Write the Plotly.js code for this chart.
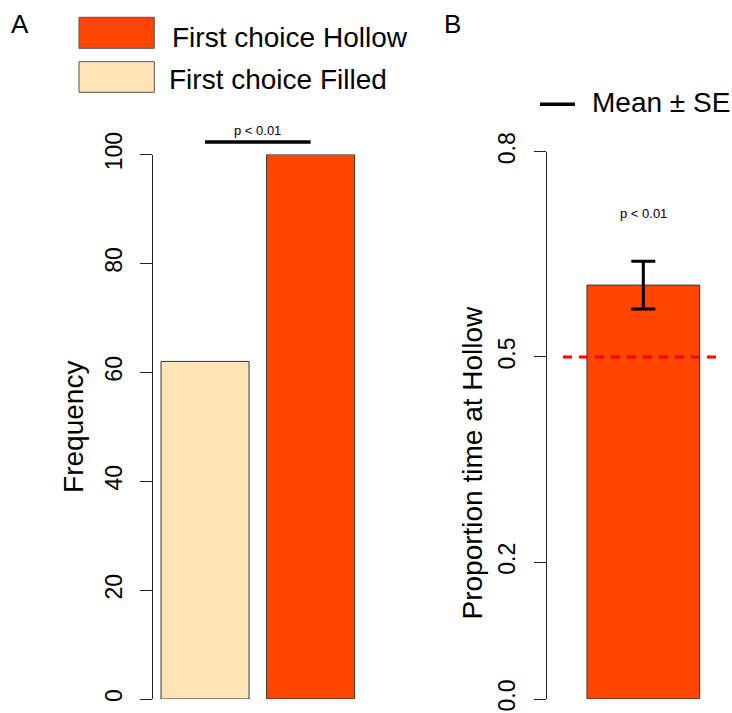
<!DOCTYPE html>
<html>
<head>
<meta charset="utf-8">
<script src="https://cdn.plot.ly/plotly-3.0.1.min.js"></script>
<style>
html,body{margin:0;padding:0;background:#fff;}
#chart{width:732px;height:713px;}
</style>
</head>
<body>
<div id="chart"></div>
<script>
// ---- data ----
const panelACategories = ['First choice Filled', 'First choice Hollow'];
const panelAFrequency = [62, 100];
const panelAYTicks = [0, 20, 40, 60, 80, 100];
const panelAPText = 'p < 0.01';

const panelBCategory = ['Hollow'];
const panelBMean = [0.605];
const panelBSE = [0.035];
const panelBYTicks = [0.0, 0.2, 0.5, 0.8];
const panelBYTickLabels = ['0.0', '0.2', '0.5', '0.8'];
const panelBChance = 0.5;
const panelBPText = 'p < 0.01';

const legendALabels = ['First choice Hollow', 'First choice Filled'];
const legendBLabel = 'Mean \u00b1 SE';

// ---- style ----
const W = 732, H = 713;
const FONT = 'Liberation Sans, Arial, sans-serif';
const cHollow = '#FF4500', cFilled = '#FFE4B5';
const px = v => v / W;
const py = v => 1 - v / H;

// bar positions like R barplot (width 1, space 0.2)
const posA = panelAFrequency.map((_, i) => 0.7 + 1.2 * i);
const posB = panelBMean.map((_, i) => 0.7 + 1.2 * i);

const yDomA = [py(699), py(154.5)];
const yRangeA = [0, 100];
const yAPaper = v => yDomA[0] + (v - yRangeA[0]) / (yRangeA[1] - yRangeA[0]) * (yDomA[1] - yDomA[0]);
const sigLevel = Math.max(...panelAFrequency) + 2.3;

const traces = [
  {
    type: 'bar', x: posA, y: panelAFrequency, width: 1,
    text: panelACategories, hoverinfo: 'text+y', textposition: 'none',
    marker: {color: [cFilled, cHollow], line: {color: '#333', width: 1}},
    xaxis: 'x', yaxis: 'y', showlegend: false
  },
  {
    type: 'bar', x: posB, y: panelBMean, width: 1,
    text: panelBCategory, hoverinfo: 'text+y', textposition: 'none',
    marker: {color: cHollow, line: {color: '#333', width: 1}},
    error_y: {type: 'data', array: panelBSE, visible: true, color: '#000', thickness: 3, width: 12},
    xaxis: 'x2', yaxis: 'y2', showlegend: false
  }
];

const axisFont = {family: FONT, size: 23, color: '#000'};
const titleFont = {family: FONT, size: 28, color: '#000'};

const layout = {
  width: W, height: H,
  margin: {l: 0, r: 0, t: 0, b: 0},
  paper_bgcolor: '#fff', plot_bgcolor: '#fff',
  font: {family: FONT, color: '#000'},
  showlegend: false,
  xaxis: {domain: [px(153.3), px(362.4)], range: [0.112, 2.488], visible: false, fixedrange: true},
  yaxis: {
    domain: yDomA, range: yRangeA,
    tickvals: panelAYTicks, tickangle: -90, tickfont: axisFont,
    ticks: 'outside', ticklen: 12, tickcolor: '#222', tickwidth: 1,
    showline: true, linecolor: '#222', linewidth: 1,
    showgrid: false, zeroline: false, ticklabelstandoff: 9,
    title: {text: 'Frequency', font: titleFont, standoff: 9}
  },
  xaxis2: {domain: [px(547.3), 1], range: [-0.152, 1.487], visible: false, anchor: 'y2', fixedrange: true},
  yaxis2: {
    domain: [py(699), py(151.7)], range: [0, 0.8], anchor: 'x2',
    tickvals: panelBYTicks, ticktext: panelBYTickLabels, tickangle: -90, tickfont: axisFont,
    ticks: 'outside', ticklen: 12, tickcolor: '#222', tickwidth: 1,
    showline: true, linecolor: '#222', linewidth: 1,
    showgrid: false, zeroline: false, ticklabelstandoff: 10
  },
  shapes: [
    // legend A swatches
    {type: 'rect', xref: 'paper', yref: 'paper', x0: px(79), x1: px(154.3), y0: py(48.3), y1: py(17.3),
     fillcolor: cHollow, line: {color: '#555', width: 1}},
    {type: 'rect', xref: 'paper', yref: 'paper', x0: px(79), x1: px(154.3), y0: py(92.3), y1: py(61.7),
     fillcolor: cFilled, line: {color: '#555', width: 1}},
    // legend B line
    {type: 'line', xref: 'paper', yref: 'paper', x0: px(540), x1: px(575), y0: py(104.3), y1: py(104.3),
     line: {color: '#000', width: 3.5}},
    // significance bracket A
    {type: 'line', xref: 'x', yref: 'paper', x0: posA[0], x1: posA[1], y0: yAPaper(sigLevel), y1: yAPaper(sigLevel),
     line: {color: '#000', width: 3.5}},
    // chance line
    {type: 'line', xref: 'paper', yref: 'y2', x0: px(563), x1: px(717), y0: panelBChance, y1: panelBChance,
     line: {color: '#FF0000', width: 3, dash: '9px,7px'}}
  ],
  annotations: [
    {text: 'A', xref: 'paper', yref: 'paper', x: px(9), y: py(24), xanchor: 'left', yanchor: 'middle',
     showarrow: false, font: {family: FONT, size: 26, color: '#000'}},
    {text: 'B', xref: 'paper', yref: 'paper', x: px(442), y: py(24), xanchor: 'left', yanchor: 'middle',
     showarrow: false, font: {family: FONT, size: 26, color: '#000'}},
    {text: legendALabels[0], xref: 'paper', yref: 'paper', x: px(170), y: py(37.5), xanchor: 'left', yanchor: 'middle',
     showarrow: false, font: titleFont},
    {text: legendALabels[1], xref: 'paper', yref: 'paper', x: px(167), y: py(79.7), xanchor: 'left', yanchor: 'middle',
     showarrow: false, font: titleFont},
    {text: legendBLabel, xref: 'paper', yref: 'paper', x: px(590), y: py(102.5), xanchor: 'left', yanchor: 'middle',
     showarrow: false, font: titleFont},
    {text: panelAPText, xref: 'x', yref: 'paper', x: (posA[0] + posA[1]) / 2, y: yAPaper(sigLevel),
     xanchor: 'center', yanchor: 'bottom', yshift: 2, showarrow: false, font: {family: FONT, size: 13, color: '#000'}},
    {text: panelBPText, xref: 'x2', yref: 'y2', x: posB[0], y: 0.71,
     xanchor: 'center', yanchor: 'middle', showarrow: false, font: {family: FONT, size: 13, color: '#000'}},
    {text: 'Proportion time at Hollow', xref: 'paper', yref: 'paper', x: px(472), y: py(462.5), textangle: -90,
     xanchor: 'center', yanchor: 'middle', showarrow: false, font: titleFont}
  ]
};

Plotly.newPlot('chart', traces, layout, {displayModeBar: false});
</script>
</body>
</html>
